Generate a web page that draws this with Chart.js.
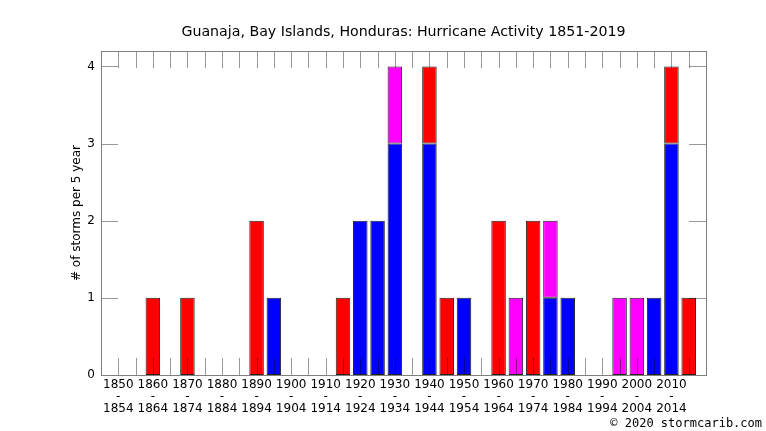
<!DOCTYPE html>
<html>
<head>
<meta charset="utf-8">
<script src="https://cdn.jsdelivr.net/npm/chart.js@4.4.1/dist/chart.umd.min.js"></script>
<style>
  html, body { margin: 0; padding: 0; background: #fff; }
</style>
</head>
<body>
<canvas id="stormChart" width="766" height="431"></canvas>
<script>
// 5 year bins, 1850-1854 ... 2015-2019
let bins = [
    '1850-1854', '1855-1859', '1860-1864', '1865-1869', '1870-1874', '1875-1879',
    '1880-1884', '1885-1889', '1890-1894', '1895-1899', '1900-1904', '1905-1909',
    '1910-1914', '1915-1919', '1920-1924', '1925-1929', '1930-1934', '1935-1939',
    '1940-1944', '1945-1949', '1950-1954', '1955-1959', '1960-1964', '1965-1969',
    '1970-1974', '1975-1979', '1980-1984', '1985-1989', '1990-1994', '1995-1999',
    '2000-2004', '2005-2009', '2010-2014', '2015-2019',
];

let blueStorms    = [0,0,0,0,0,0, 0,0,0,1,0,0, 0,0,2,2,3,0, 3,0,1,0,0,0, 0,1,1,0,0,0, 0,1,3,0];
let redStorms     = [0,0,1,0,1,0, 0,0,2,0,0,0, 0,1,0,0,0,0, 1,1,0,0,2,0, 2,0,0,0,0,0, 0,0,1,1];
let magentaStorms = [0,0,0,0,0,0, 0,0,0,0,0,0, 0,0,0,0,1,0, 0,0,0,0,0,1, 0,1,0,0,0,1, 1,0,0,0];

let yTicks = [0, 1, 2, 3, 4];

function toPoints(values) {
    return values.map((v, i) => ({ x: i, y: v }));
}

// gnuplot style ticks pointing into the plot, plus the frame
const innerTicks = {
    id: 'innerTicks',
    afterDatasetsDraw(chart) {
        const { ctx, chartArea: a, scales: { x, y } } = chart;
        const len = 17;
        ctx.save();
        ctx.lineWidth = 1;
        ctx.strokeStyle = 'rgba(0,0,0,0.4)';
        ctx.beginPath();
        x.ticks.forEach(t => {
            if (t.value < 0 || t.value >= bins.length) return;
            const px = Math.round(x.getPixelForValue(t.value)) + 0.5;
            ctx.moveTo(px, a.bottom); ctx.lineTo(px, a.bottom - len);
            ctx.moveTo(px, a.top); ctx.lineTo(px, a.top + len);
        });
        y.ticks.forEach(t => {
            const py = Math.round(y.getPixelForValue(t.value)) + 0.5;
            ctx.moveTo(a.left, py); ctx.lineTo(a.left + len, py);
            ctx.moveTo(a.right, py); ctx.lineTo(a.right - len, py);
        });
        ctx.stroke();
        ctx.strokeStyle = '#808080';
        ctx.strokeRect(Math.round(a.left) + 0.5, Math.round(a.top) + 0.5,
            Math.round(a.width), Math.round(a.height));
        ctx.restore();
    }
};

Chart.defaults.font.family = 'DejaVu Sans';
Chart.defaults.color = '#000';

let ctx = document.getElementById('stormChart');

new Chart(ctx, {
    type: 'bar',
    data: {
        datasets: [
            { label: 'blue', data: toPoints(blueStorms), backgroundColor: '#0000ff' },
            { label: 'red', data: toPoints(redStorms), backgroundColor: '#ff0000' },
            { label: 'magenta', data: toPoints(magentaStorms), backgroundColor: '#ff00ff' },
        ]
    },
    options: {
        responsive: false,
        animation: false,
        layout: { padding: { left: 0, right: 4, top: 0, bottom: 0 } },
        datasets: {
            bar: {
                borderColor: '#222',
                borderWidth: 1,
                borderSkipped: false,
                categoryPercentage: 1,
                barPercentage: 0.84,
            }
        },
        plugins: {
            legend: { display: false },
            tooltip: { enabled: false },
            title: {
                display: true,
                text: 'Guanaja, Bay Islands, Honduras: Hurricane Activity 1851-2019',
                fullSize: false,
                color: '#000',
                font: { size: 14.2, weight: 'normal' },
                padding: { top: 24, bottom: 10 },
            },
            subtitle: {
                display: true,
                position: 'bottom',
                align: 'end',
                text: '\u00a9 2020 stormcarib.com',
                color: '#000',
                font: { family: 'DejaVu Sans Mono', size: 12 },
                padding: { top: 0, bottom: 0 },
            }
        },
        scales: {
            x: {
                type: 'linear',
                stacked: true,
                offset: false,
                min: -1,
                max: bins.length,
                grid: { display: false, drawTicks: false, offset: false },
                border: { display: false },
                ticks: {
                    stepSize: 1,
                    maxTicksLimit: 100,
                    autoSkip: false,
                    maxRotation: 0,
                    padding: 4,
                    font: { size: 12, lineHeight: 1.0 },
                    callback: (value) => {
                        const label = bins[value];
                        if (!label || value % 2 !== 0) return '';
                        const [a, b] = label.split('-');
                        return [a, '-', b];
                    }
                },
                afterFit: (scale) => { scale.height = 41.6; }
            },
            y: {
                stacked: true,
                min: 0,
                max: 4.2,
                grid: { display: false, drawTicks: false },
                border: { display: false },
                ticks: {
                    stepSize: 1,
                    includeBounds: false,
                    padding: 6,
                    font: { size: 12 },
                    callback: (value) => yTicks.includes(value) ? value : ''
                },
                title: {
                    display: true,
                    text: '# of storms per 5 year',
                    font: { size: 12 },
                    padding: { top: 70, bottom: 0 },
                },
                afterFit: (scale) => { scale.width = 101; }
            },
            yRight: {
                axis: 'y',
                position: 'right',
                display: true,
                grid: { display: false, drawTicks: false },
                border: { display: false },
                ticks: { display: false },
                afterFit: (scale) => { scale.width = 56; }
            }
        }
    },
    plugins: [innerTicks]
});
</script>
</body>
</html>
